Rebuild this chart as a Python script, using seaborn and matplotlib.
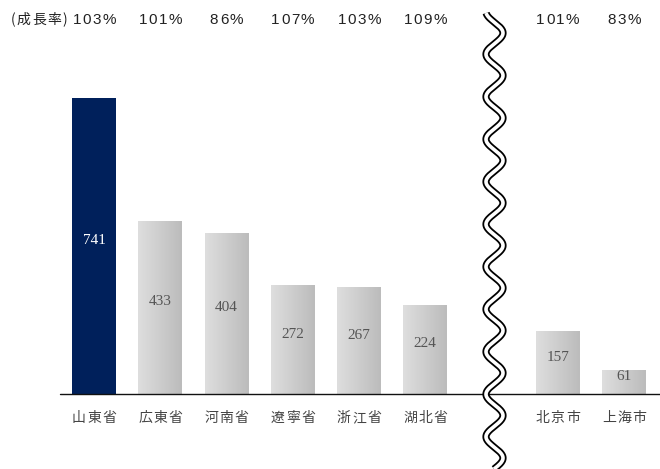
import numpy as np
import pandas as pd
import matplotlib
matplotlib.use("Agg")
import matplotlib.pyplot as plt
import matplotlib.transforms as mtransforms
from matplotlib.lines import Line2D
from matplotlib.font_manager import FontProperties
import seaborn as sns

# data
regions = ["山東省", "広東省", "河南省", "遼寧省", "浙江省", "湖北省", "北京市", "上海市"]
values = [741, 433, 404, 272, 267, 224, 157, 61]
growth = ["103%", "101%", "86%", "107%", "103%", "109%", "101%", "83%"]
order = regions[:6] + [" "] + regions[6:]   # blank slot where the break sits

sns.set_style("white")
plt.rcParams["font.family"] = ["Liberation Sans", "Noto Sans CJK JP", "DejaVu Sans"]

df = pd.DataFrame({"region": regions, "value": values})

fig = plt.figure(figsize=(6.6, 4.69), dpi=100)
ax = fig.add_axes([0, 0, 1, 1])

sns.barplot(data=df, x="region", y="value", order=order, width=0.664,
            color="#cccccc", edgecolor="none", ax=ax)

# first bar dark navy, others grey gradient
grad = np.linspace(0, 1, 64).reshape(1, -1)
cmap = matplotlib.colors.LinearSegmentedColormap.from_list("g", ["#dedede", "#bcbcbc"])
for i, p in enumerate(ax.patches):
    if p.get_height() != p.get_height():
        continue
    if i == 0:
        p.set_facecolor("#00205b")
        continue
    x0, y0 = p.get_x(), p.get_y()
    im = ax.imshow(grad, cmap=cmap, aspect="auto", zorder=2,
                   extent=[x0, x0 + p.get_width(), y0, y0 + p.get_height()])
    im.set_clip_path(p)

ax.set_xlim(-1.419, 8.543)
ax.set_ylim(-187.7, 986.2)
ax.axis("off")

# baseline
ax.axhline(0, xmin=60 / 660, xmax=1, color="#111111", lw=1.0, zorder=12)

renderer = fig.canvas.get_renderer()


def spaced(x, y, s, base, family, size, color, gap_px, align="center"):
    # draw text with extra letter spacing, one char at a time
    widths = []
    for c in s:
        prop = FontProperties(family=family, size=size)
        widths.append(renderer.get_text_width_height_descent(c, prop, ismath=False)[0])
    total = sum(widths) + gap_px * (len(s) - 1)
    cur = -total / 2 if align == "center" else 0
    for c, w in zip(s, widths):
        tr = mtransforms.offset_copy(base, fig=fig, x=cur, y=0, units="dots")
        t = fig.text(x, y, c, transform=tr, ha="left", va="center",
                     fontsize=size, color=color)
        t.set_family(family)
        cur += w + gap_px


pos = {r: order.index(r) for r in regions}
top = mtransforms.blended_transform_factory(ax.transData, fig.transFigure)
for i, (r, v, g) in enumerate(zip(regions, values, growth)):
    x = pos[r]
    ax.text(x, v / 2 + 14, str(v), ha="center", va="center", fontsize=11,
            family="Liberation Serif", color="white" if i == 0 else "#555555", zorder=4)
    spaced(x, -60, r, ax.transData, ["Noto Sans CJK JP"], 10, "#444444", 1.3)
    spaced(x, 449 / 469, g, top, ["Liberation Sans"], 11, "#222222", 1.4)

spaced(11 / 660, 449 / 469, "(成長率)", fig.transFigure,
       ["Noto Sans CJK JP", "DejaVu Sans"], 10, "#222222", 1.3, align="left")

# wavy break line (double line)
yy = np.linspace(13, 469, 900)
xx = 494.5 + 8.5 * np.cos(2 * np.pi * (yy - 33) / 42.5)
for lw, c in [(5.2, "black"), (2.6, "white")]:
    fig.add_artist(Line2D(xx / 660, 1 - yy / 469, transform=fig.transFigure,
                          color=c, lw=lw, zorder=10, solid_capstyle="butt"))

fig.savefig("out.png", dpi=100)
